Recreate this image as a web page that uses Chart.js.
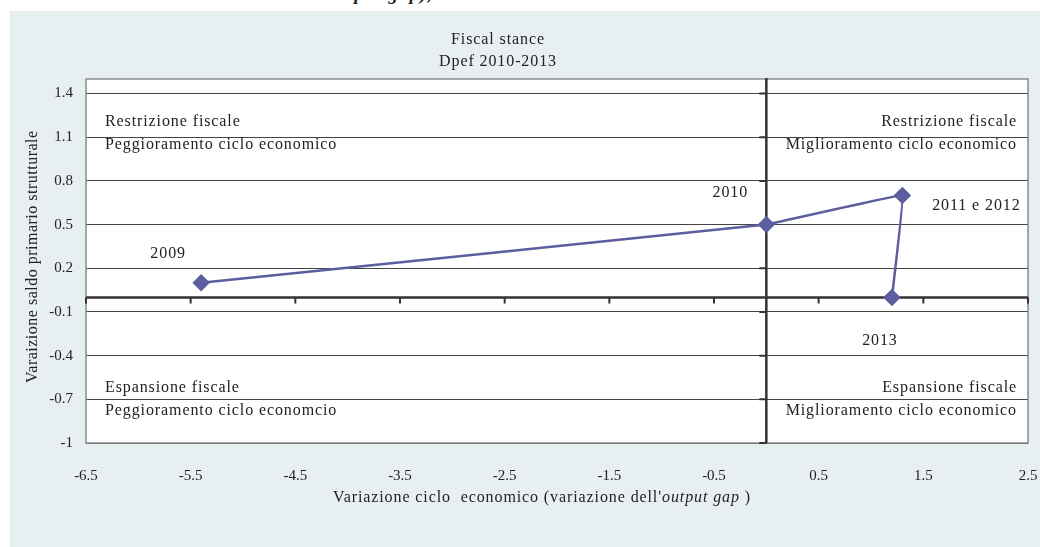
<!DOCTYPE html>
<html>
<head>
<meta charset="utf-8">
<script src="https://cdn.jsdelivr.net/npm/chart.js@4"></script>
<style>
  html, body { margin: 0; padding: 0; background: #fff; }
  #wrap { position: relative; width: 1040px; height: 547px; overflow: hidden; }
  #topline { position: absolute; left: 326px; top: -17px; font: italic bold 19px "Liberation Serif", serif; color: #222; white-space: nowrap; letter-spacing: 1px; }
  canvas { position: absolute; left: 0; top: 0; }
</style>
</head>
<body>
<div id="wrap">
  <div id="topline">output gap),</div>
  <canvas id="chart" width="1040" height="547"></canvas>
</div>
<script>
// Data
const years = ['2009', '2010', '2011 e 2012', '2013'];
const cycleChange = [-5.4, 0, 1.3, 1.2];       // variazione output gap
const balanceChange = [0.1, 0.5, 0.7, 0.0];    // variazione saldo primario strutturale
const xTickValues = [-6.5, -5.5, -4.5, -3.5, -2.5, -1.5, -0.5, 0.5, 1.5, 2.5];
const yTickValues = [-1, -0.7, -0.4, -0.1, 0.2, 0.5, 0.8, 1.1, 1.4];

const FONT = '"Liberation Serif", "Times New Roman", serif';
const TEXT_FONT = '16px ' + FONT;
const lineColor = '#5c5e9e';

// background panel, crossing axes and all the free text
const decorations = {
  id: 'decorations',
  beforeDraw(chart) {
    const ctx = chart.ctx;
    const a = chart.chartArea;
    ctx.save();
    ctx.fillStyle = '#e8eff1';
    ctx.fillRect(10, 11, chart.width - 10, chart.height - 11);
    ctx.fillStyle = '#ffffff';
    ctx.fillRect(a.left, a.top, a.right - a.left, a.bottom - a.top);
    ctx.restore();
  },
  beforeDatasetsDraw(chart) {
    const ctx = chart.ctx;
    const a = chart.chartArea;
    const xs = chart.scales.x, ys = chart.scales.y;
    const x0 = xs.getPixelForValue(0);
    const y0 = ys.getPixelForValue(0);
    ctx.save();
    // plot border
    ctx.strokeStyle = '#8a8a8a';
    ctx.lineWidth = 1.5;
    ctx.strokeRect(a.left, a.top, a.right - a.left, a.bottom - a.top);
    // crossing axes
    ctx.strokeStyle = '#333333';
    ctx.lineWidth = 2.5;
    ctx.beginPath();
    ctx.moveTo(a.left, y0); ctx.lineTo(a.right, y0);
    ctx.moveTo(x0, a.top - 1); ctx.lineTo(x0, a.bottom);
    ctx.stroke();
    ctx.lineWidth = 2;
    ctx.beginPath();
    xTickValues.forEach(v => {
      const px = xs.getPixelForValue(v);
      ctx.moveTo(px, y0); ctx.lineTo(px, y0 + 6);
    });
    yTickValues.forEach(v => {
      const py = ys.getPixelForValue(v);
      ctx.moveTo(x0, py); ctx.lineTo(x0 - 7, py);
    });
    ctx.stroke();

    ctx.fillStyle = '#222';
    ctx.font = TEXT_FONT;
    ctx.letterSpacing = '0.9px';
    ctx.textBaseline = 'middle';

    // title
    ctx.textAlign = 'center';
    ctx.fillText('Fiscal stance', 498, 40);
    ctx.fillText('Dpef 2010-2013', 498, 62);

    // quadrant captions
    ctx.textAlign = 'left';
    ctx.fillText('Restrizione fiscale', a.left + 19, 122);
    ctx.fillText('Peggioramento ciclo economico', a.left + 19, 145);
    ctx.fillText('Espansione fiscale', a.left + 19, 388);
    ctx.fillText('Peggioramento ciclo economcio', a.left + 19, 411);
    ctx.textAlign = 'right';
    ctx.fillText('Restrizione fiscale', a.right - 11, 122);
    ctx.fillText('Miglioramento ciclo economico', a.right - 11, 145);
    ctx.fillText('Espansione fiscale', a.right - 11, 388);
    ctx.fillText('Miglioramento ciclo economico', a.right - 11, 411);

    // point labels
    const offsets = [[-33, -29], [-36, -32], [74, 10], [-12, 43]];
    ctx.textAlign = 'center';
    years.forEach((y, i) => {
      const px = xs.getPixelForValue(cycleChange[i]);
      const py = ys.getPixelForValue(balanceChange[i]);
      ctx.fillText(y, px + offsets[i][0], py + offsets[i][1]);
    });

    // x axis title with italic part
    const t1 = "Variazione ciclo  economico (variazione dell'";
    const t2 = 'output gap';
    const t3 = ' )';
    ctx.font = TEXT_FONT;
    const w1 = ctx.measureText(t1).width, w3 = ctx.measureText(t3).width;
    ctx.font = 'italic ' + TEXT_FONT;
    const w2 = ctx.measureText(t2).width;
    let sx = 542 - (w1 + w2 + w3) / 2;
    ctx.textAlign = 'left';
    ctx.font = TEXT_FONT;
    ctx.fillText(t1, sx, 498);
    ctx.font = 'italic ' + TEXT_FONT;
    ctx.fillText(t2, sx + w1, 498);
    ctx.font = TEXT_FONT;
    ctx.fillText(t3, sx + w1 + w2, 498);

    // y axis title, clipped at the top like the original
    ctx.save();
    ctx.letterSpacing = '0.5px';
    ctx.beginPath();
    ctx.rect(0, 124, 80, 300);
    ctx.clip();
    ctx.translate(33, 383);
    ctx.rotate(-Math.PI / 2);
    ctx.textAlign = 'left';
    ctx.fillText('Varaizione saldo primario strutturale', 0, 0);
    ctx.restore();
    ctx.letterSpacing = '0px';
    ctx.restore();
  }
};

const config = {
  type: 'scatter',
  data: {
    datasets: [{
      label: 'Fiscal stance',
      data: cycleChange.map((x, i) => ({ x: x, y: balanceChange[i] })),
      showLine: true,
      borderColor: lineColor,
      backgroundColor: lineColor,
      borderWidth: 2.5,
      tension: 0.03,
      pointStyle: 'rectRot',
      pointRadius: 7,
      pointHoverRadius: 7,
    }]
  },
  options: {
    responsive: false,
    animation: false,
    layout: { padding: { left: 0, right: 12, top: 79, bottom: 0 } },
    plugins: {
      legend: { display: false },
      tooltip: { enabled: false },
      title: { display: false },
    },
    scales: {
      x: {
        type: 'linear',
        min: -6.5,
        max: 2.5,
        afterBuildTicks: s => { s.ticks = xTickValues.map(v => ({ value: v })); },
        afterFit: s => { s.height = 104; s.paddingLeft = 0; s.paddingRight = 0; },
        grid: { display: false, drawTicks: false },
        border: { display: false },
        ticks: {
          color: '#222',
          font: { family: FONT, size: 15 },
          padding: 24,
          maxRotation: 0,
          callback: v => String(v),
        },
      },
      y: {
        type: 'linear',
        min: -1,
        max: 1.5,
        afterBuildTicks: s => { s.ticks = yTickValues.map(v => ({ value: v })); },
        afterFit: s => { s.width = 86; s.paddingTop = 0; s.paddingBottom = 0; },
        grid: { color: '#444', lineWidth: 1, drawTicks: false },
        border: { display: false },
        ticks: {
          color: '#222',
          font: { family: FONT, size: 15 },
          padding: 13,
          callback: v => String(v),
        },
      },
    },
  },
  plugins: [decorations],
};

const chart = new Chart(document.getElementById('chart'), config);
</script>
</body>
</html>
